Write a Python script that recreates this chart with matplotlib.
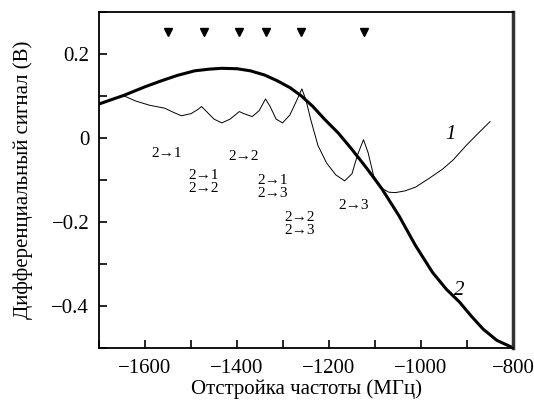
import matplotlib
matplotlib.use("Agg")
import matplotlib.pyplot as plt
from matplotlib.ticker import MultipleLocator

plt.rcParams['font.family'] = ['Liberation Serif', 'DejaVu Serif']
plt.rcParams['mathtext.fontset'] = 'stix'

# Curve 1 (thin): differential signal
freq1 = [-1700, -1670, -1645, -1620, -1590, -1557, -1540, -1521, -1500, -1485, -1477,
         -1468, -1450, -1433, -1415, -1395, -1385, -1367, -1352, -1338, -1328, -1315,
         -1301, -1285, -1270, -1259, -1250, -1240, -1224, -1205, -1185, -1166, -1150,
         -1138, -1125, -1115, -1103, -1085, -1070, -1056, -1035, -1012, -985, -953,
         -930, -902, -875, -850]
sig1 = [0.080, 0.092, 0.100, 0.088, 0.078, 0.071, 0.062, 0.053, 0.058, 0.068, 0.075,
        0.065, 0.045, 0.036, 0.045, 0.063, 0.058, 0.051, 0.065, 0.093, 0.075, 0.045,
        0.036, 0.055, 0.090, 0.117, 0.090, 0.045, -0.018, -0.060, -0.088, -0.102, -0.085,
        -0.040, -0.004, -0.035, -0.090, -0.120, -0.129, -0.130, -0.126, -0.117, -0.098, -0.074,
        -0.052, -0.018, 0.012, 0.039]

# Curve 2 (thick)
freq2 = [-1700, -1645, -1600, -1565, -1530, -1492, -1460, -1433, -1400, -1371, -1340,
         -1312, -1285, -1261, -1235, -1210, -1180, -1151, -1118, -1085, -1048, -1012,
         -975, -945, -916, -890, -865, -835, -803]
sig2 = [0.081, 0.102, 0.122, 0.136, 0.149, 0.160, 0.164, 0.166, 0.165, 0.160, 0.150,
        0.136, 0.120, 0.101, 0.075, 0.045, 0.012, -0.026, -0.072, -0.121, -0.185, -0.256,
        -0.320, -0.360, -0.391, -0.425, -0.455, -0.482, -0.498]

# Line markers (triangles)
marker_freq = [-1551, -1472, -1395, -1338, -1261, -1125]
marker_level = 0.252

# Transition labels
label_text = ["2\u21921", "2\u21922", "2\u21921\n2\u21922", "2\u21921\n2\u21923",
              "2\u21922\n2\u21923", "2\u21923"]
label_x = [-1554, -1386, -1472, -1323, -1263, -1147]
label_y = [-0.038, -0.045, -0.105, -0.117, -0.205, -0.161]

fig = plt.figure(figsize=(5.34, 4.01), dpi=100)
ax = fig.add_axes([0.1854, 0.1322, 0.7753, 0.8378])

ax.plot(freq2, sig2, color='black', lw=2.2, solid_joinstyle='miter')
ax.plot(freq1, sig1, color='black', lw=0.7)
ax.plot(marker_freq, [marker_level] * len(marker_freq), 'v', color='black', ms=6)

for t, x, y in zip(label_text, label_x, label_y):
    ax.text(x, y, t, ha='center', va='center', fontsize=11, linespacing=1.0)

ax.text(-935, 0.009, "1", fontsize=15, style='italic', ha='center', va='center')
ax.text(-916, -0.364, "2", fontsize=15, style='italic', ha='center', va='center')

ax.set_xlim(-1700, -800)
ax.set_ylim(-0.5, 0.3)
ax.xaxis.set_major_locator(MultipleLocator(200))
ax.xaxis.set_minor_locator(MultipleLocator(100))
ax.yaxis.set_major_locator(MultipleLocator(0.2))
ax.yaxis.set_minor_locator(MultipleLocator(0.1))
ax.set_xticks([-1600, -1400, -1200, -1000, -800])
ax.set_xticklabels(["\u22121600", "\u22121400", "\u22121200", "\u22121000", "\u2212800"])
ax.set_yticks([-0.4, -0.2, 0, 0.2])
ax.set_yticklabels(["\u22120.4", "\u22120.2", "0", "0.2"])
ax.tick_params(which='both', direction='in', length=6, width=1.2, labelsize=15,
               top=False, right=False)
ax.tick_params(axis='x', pad=8)
ax.tick_params(axis='y', pad=7)

for s in ['left', 'bottom', 'top']:
    ax.spines[s].set_linewidth(1.3)
ax.spines['right'].set_linewidth(2.5)
ax.spines['right'].set_color('#333333')

ax.set_xlabel("Отстройка частоты (МГц)", fontsize=15, labelpad=1)
ax.set_ylabel("Дифференциальный сигнал (В)", fontsize=15, labelpad=13)

fig.savefig("out.png", dpi=100)
